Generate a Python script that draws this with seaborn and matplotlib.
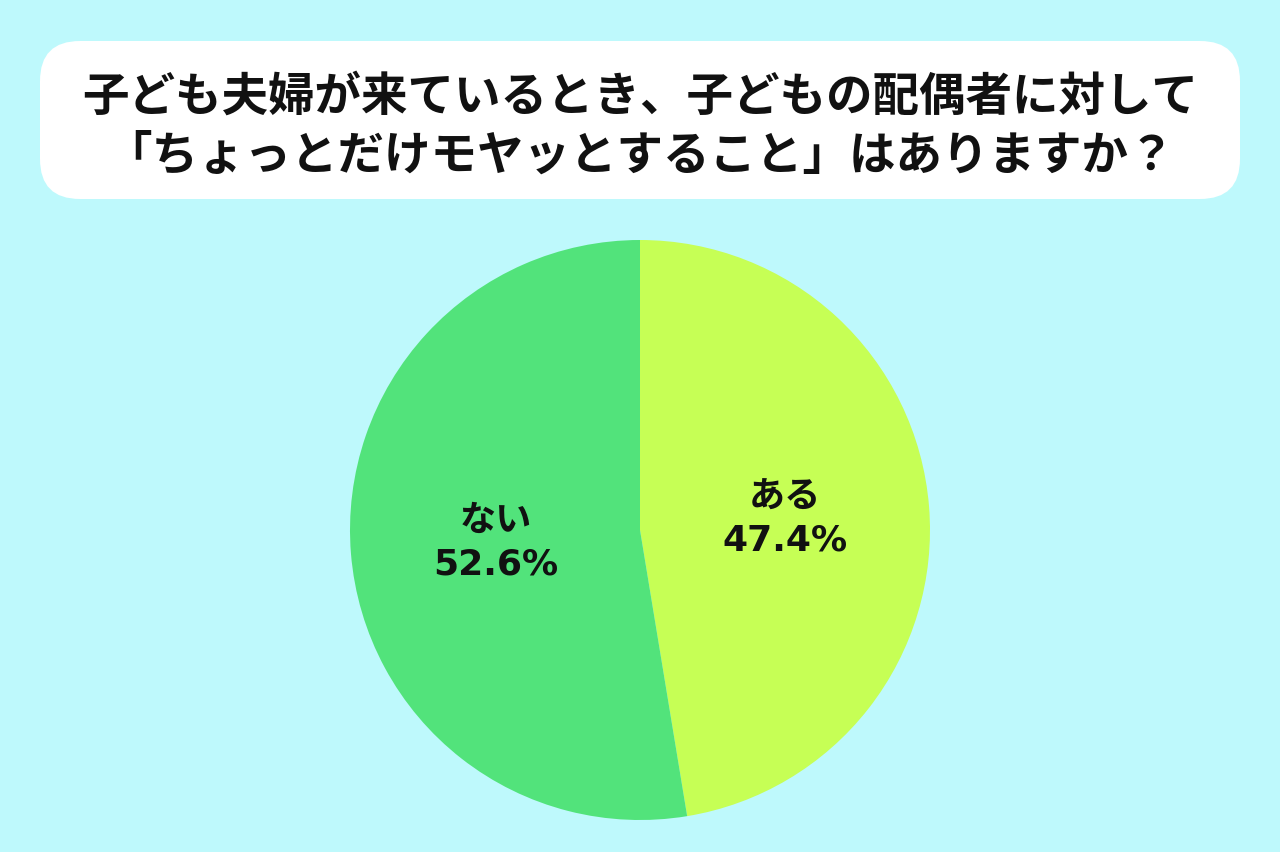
import numpy as np
import matplotlib
matplotlib.use("Agg")
import matplotlib.pyplot as plt
from matplotlib.patches import FancyBboxPatch
import seaborn as sns

# data
answers = ["ある", "ない"]
shares = [47.4, 52.6]
title_lines = ["子ども夫婦が来ているとき、子どもの配偶者に対して",
               "「ちょっとだけモヤッとすること」はありますか？"]

bg_color = "#BEF9FC"
slice_colors = ["#C6FF55", "#52E37B"]

sns.set_theme(style="white")
plt.rcParams['font.family'] = ['Noto Sans CJK JP', 'DejaVu Sans']

fig = plt.figure(figsize=(12.8, 8.53), dpi=100)
fig.patch.set_facecolor(bg_color)

# background layer in pixel coordinates for the title box
bg = fig.add_axes([0, 0, 1, 1])
bg.set_xlim(0, 1280)
bg.set_ylim(853, 0)
bg.axis("off")
box = FancyBboxPatch((40 + 40, 42 + 40), 1200 - 80, 158 - 80,
                     boxstyle="round,pad=40", facecolor="white",
                     edgecolor="none")
bg.add_patch(box)
bg.text(640, 97, title_lines[0], ha="center", va="center",
        fontsize=33.5, fontweight="bold", color="#111111")
bg.text(640, 156, title_lines[1], ha="center", va="center",
        fontsize=33.5, fontweight="bold", color="#111111")

# pie
cx, cy, r = 640, 531, 290
ax = fig.add_axes([(cx - r) / 1280, (853 - cy - r) / 853, 2 * r / 1280, 2 * r / 853])
labels = [f"{a}\n{s:.1f}%" for a, s in zip(answers, shares)]
wedges, texts = ax.pie(shares, labels=labels, colors=slice_colors,
                       startangle=90, counterclock=False, radius=1,
                       labeldistance=0.5,
                       wedgeprops=dict(linewidth=0),
                       textprops=dict(fontsize=26, fontweight="bold",
                                      color="#111111", ha="center",
                                      va="center", linespacing=1.35,
                                      family=['DejaVu Sans', 'Noto Sans CJK JP']))
ax.set_xlim(-1, 1)
ax.set_ylim(-1, 1)
ax.set_aspect("equal")
ax.axis("off")

fig.savefig("out.png", dpi=100, facecolor=bg_color)
